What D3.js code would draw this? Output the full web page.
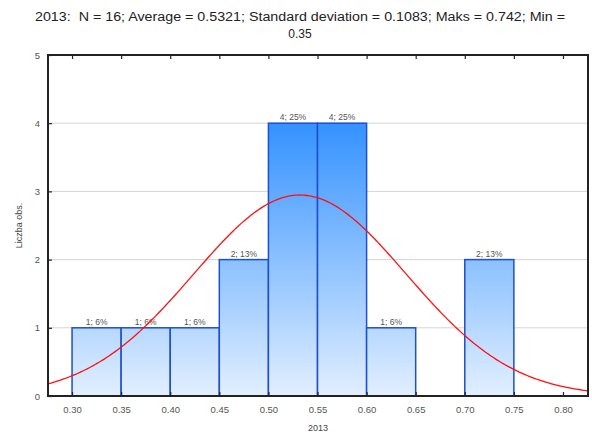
<!DOCTYPE html>
<html>
<head>
<meta charset="utf-8">
<script src="https://cdn.jsdelivr.net/npm/d3@7"></script>
<style>
  body { margin: 0; background: #fff; }
  text { font-family: "Liberation Sans", Arial, sans-serif; }
</style>
</head>
<body>
<div id="chart"></div>
<script>
// histogram bins (lower edge) and counts
var binStart = [0.30, 0.35, 0.40, 0.45, 0.50, 0.55, 0.60, 0.65, 0.70];
var counts = [1, 1, 1, 2, 4, 4, 1, 0, 2];
var binLabels = ["1; 6%", "1; 6%", "1; 6%", "2; 13%", "4; 25%", "4; 25%", "1; 6%", "", "2; 13%"];
var binWidth = 0.05;

var xTicks = ["0.30", "0.35", "0.40", "0.45", "0.50", "0.55", "0.60", "0.65", "0.70", "0.75", "0.80"];
var yTicks = [0, 1, 2, 3, 4, 5];

// summary stats shown in the title, used for the fitted normal curve
var statN = [16];
var statMean = [0.5321];
var statSd = [0.1083];
var titleLines = [
  "2013:  N = 16; Average = 0.5321; Standard deviation = 0.1083; Maks = 0.742; Min =",
  "0.35"
];

var width = 592, height = 434;
var margin = { top: 55, right: 4, bottom: 38, left: 48 };

var svg = d3.select("#chart").append("svg")
  .attr("width", width)
  .attr("height", height);

var x = d3.scaleLinear()
  .domain([0.2755, 0.8255])
  .range([margin.left, width - margin.right]);

var y = d3.scaleLinear()
  .domain([0, 5])
  .range([height - margin.bottom, margin.top]);

/*
 * Gradient for the bars, top of tall bars darker.
 */
var defs = svg.append("defs");
var grad = defs.append("linearGradient")
  .attr("id", "barFill")
  .attr("gradientUnits", "userSpaceOnUse")
  .attr("x1", 0).attr("x2", 0)
  .attr("y1", y(4)).attr("y2", y(0));
grad.append("stop").attr("offset", "0%").attr("stop-color", "#3492ff");
grad.append("stop").attr("offset", "100%").attr("stop-color", "#e2efff");

defs.append("clipPath").attr("id", "plotClip")
  .append("rect")
  .attr("x", x.range()[0]).attr("y", y.range()[1])
  .attr("width", x.range()[1] - x.range()[0])
  .attr("height", y.range()[0] - y.range()[1]);

/*
 * Title.
 */
svg.append("g").selectAll("text")
  .data(titleLines)
  .enter().append("text")
  .attr("x", 300)
  .attr("y", function(d, i) { return 21 + i * 17; })
  .attr("text-anchor", "middle")
  .attr("font-size", 12)
  .attr("fill", "#222")
  .attr("xml:space", "preserve")
  .style("white-space", "pre")
  .attr("textLength", function(d, i) { return i === 0 ? 530 : null; })
  .attr("lengthAdjust", "spacingAndGlyphs")
  .text(function(d) { return d; });

/*
 * Horizontal grid lines.
 */
svg.append("g").selectAll("line")
  .data(yTicks.slice(1, -1))
  .enter().append("line")
  .attr("x1", x.range()[0]).attr("x2", x.range()[1])
  .attr("y1", function(d) { return y(d); })
  .attr("y2", function(d) { return y(d); })
  .attr("stroke", "#d4d4d4")
  .attr("stroke-width", 1);

/*
 * Bars.
 */
var bins = binStart.map(function(s, i) { return { x0: s, x1: s + binWidth, n: counts[i], label: binLabels[i] }; });

svg.append("g").selectAll("rect")
  .data(bins.filter(function(d) { return d.n > 0; }))
  .enter().append("rect")
  .attr("x", function(d) { return x(d.x0); })
  .attr("y", function(d) { return y(d.n); })
  .attr("width", function(d) { return x(d.x1) - x(d.x0); })
  .attr("height", function(d) { return y(0) - y(d.n); })
  .attr("fill", "url(#barFill)")
  .attr("stroke", "#1d4fd0")
  .attr("stroke-width", 1.5);

svg.append("g").selectAll("text")
  .data(bins.filter(function(d) { return d.n > 0; }))
  .enter().append("text")
  .attr("x", function(d) { return x((d.x0 + d.x1) / 2); })
  .attr("y", function(d) { return y(d.n) - 3; })
  .attr("text-anchor", "middle")
  .attr("font-size", 8.5)
  .attr("fill", "#555")
  .text(function(d) { return d.label; });

/*
 * Fitted normal curve.
 */
var curveX = d3.range(x.domain()[0], x.domain()[1] + 0.001, 0.002);
var scaleN = statN[0] * binWidth / (statSd[0] * Math.sqrt(2 * Math.PI));
var line = d3.line()
  .x(function(d) { return x(d); })
  .y(function(d) {
    var z = (d - statMean[0]) / statSd[0];
    return y(scaleN * Math.exp(-0.5 * z * z));
  });

svg.append("path")
  .datum(curveX)
  .attr("clip-path", "url(#plotClip)")
  .attr("d", line)
  .attr("fill", "none")
  .attr("stroke", "#ff1010")
  .attr("stroke-width", 1.3);

/*
 * Axes.
 */
var xAxis = d3.axisBottom(x)
  .tickValues(xTicks.map(Number))
  .tickFormat(function(d, i) { return xTicks[i]; })
  .tickSizeInner(-4).tickSizeOuter(0).tickPadding(10);

var gx = svg.append("g")
  .attr("transform", "translate(0," + y(0) + ")")
  .call(xAxis);

var gxTop = svg.append("g")
  .attr("transform", "translate(0," + y(5) + ")")
  .call(d3.axisTop(x).tickValues(xTicks.map(Number)).tickFormat("").tickSizeInner(-4).tickSizeOuter(0));

var yAxis = d3.axisLeft(y)
  .tickValues(yTicks)
  .tickFormat(d3.format("d"))
  .tickSizeInner(-4).tickSizeOuter(0).tickPadding(8);

var gy = svg.append("g")
  .attr("transform", "translate(" + x.range()[0] + ",0)")
  .call(yAxis);

[gx, gxTop, gy].forEach(function(g) {
  g.selectAll(".domain").remove();
  g.selectAll(".tick line").attr("stroke", "#222").attr("stroke-width", 1.2);
  g.selectAll(".tick text").attr("font-size", 9.5).attr("fill", "#555")
    .style("font-family", "'Liberation Sans', Arial, sans-serif");
});

// frame round the plot
svg.append("rect")
  .attr("x", x.range()[0]).attr("y", y.range()[1])
  .attr("width", x.range()[1] - x.range()[0])
  .attr("height", y.range()[0] - y.range()[1])
  .attr("fill", "none")
  .attr("stroke", "#222")
  .attr("stroke-width", 2);

/*
 * Axis titles.
 */
svg.append("text")
  .attr("x", (x.range()[0] + x.range()[1]) / 2)
  .attr("y", 431)
  .attr("text-anchor", "middle")
  .attr("font-size", 9)
  .attr("fill", "#444")
  .text("2013");

svg.append("text")
  .attr("transform", "translate(22," + ((y.range()[0] + y.range()[1]) / 2) + ") rotate(-90)")
  .attr("text-anchor", "middle")
  .attr("font-size", 9)
  .attr("fill", "#444")
  .text("Liczba obs.");
</script>
</body>
</html>
